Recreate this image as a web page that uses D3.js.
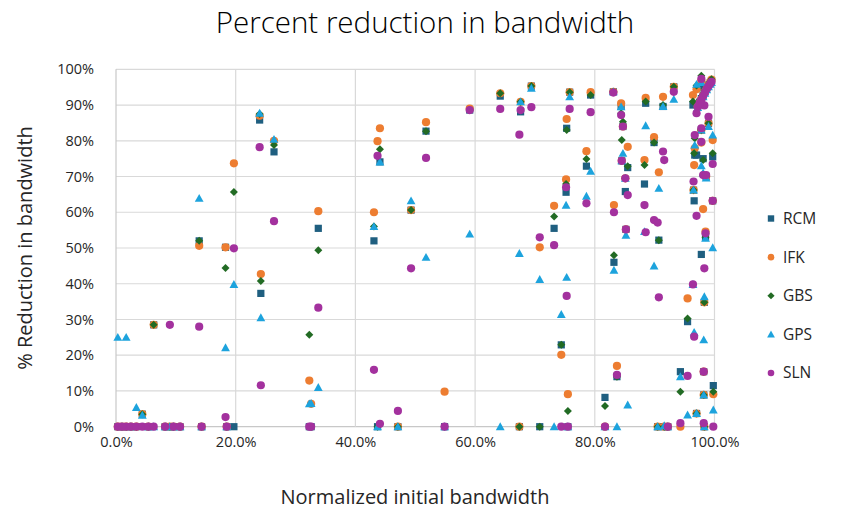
<!DOCTYPE html>
<html>
<head>
<meta charset="utf-8">
<script src="https://cdn.jsdelivr.net/npm/d3@7"></script>
<style>
  html, body { margin: 0; padding: 0; background: #fff; }
  svg { display: block; font-family: "Open Sans", "Noto Sans", sans-serif; }
</style>
</head>
<body>
<svg id="chart" width="845" height="518"></svg>
<script>
// Normalized initial bandwidth (%) of each test matrix
const initialBandwidth = [
  0.3, 1.7, 1.0, 2.5, 3.4, 4.4, 5.4, 6.3, 9.6, 8.2, 9.0, 10.7,
  13.9, 14.3, 18.3, 18.5, 19.7, 24.0, 24.2, 26.4,
  32.3, 32.6, 33.8, 43.1, 43.7, 44.1, 47.1, 49.3, 51.8, 54.9, 59.1, 64.2,
  67.4, 67.6, 69.4, 70.8, 73.2, 74.4, 75.8, 75.3, 75.2, 75.5, 78.6, 79.3,
  81.7, 83.1, 83.2, 83.7, 84.4, 84.7, 84.5, 85.5, 85.1, 85.2,
  88.5, 88.3, 89.9, 90.7, 91.4, 90.5, 91.6, 92.2, 93.2, 94.3, 95.5,
  96.4, 96.7, 96.6, 96.5, 97.0, 97.0, 97.8, 97.8, 98.3, 98.1, 98.2, 98.2,
  98.5, 98.3, 99.0, 99.7, 99.7, 99.8,
  97.2, 97.5, 97.8, 98.1, 98.4, 98.7, 99.0, 99.3, 99.5, 97.8, 98.6
];

// Percent reduction in bandwidth for each ordering method
const rcm = [
  0, 0, 0, 0, 0, 3.5, 0, 28.5, 0, 0, 0, 0,
  52, 0, 50.2, 0, 0, 85.8, 37.3, 76.9,
  0, 0, 55.5, 52, 0, 74.1, 0, 60.6, 82.7, 0, 88.6, 92.5,
  0, 88.1, 95.3, 0, 55.5, 22.9, 93.6, 83.5, 65.6, 0, 72.9, 92.8,
  8.2, 93.7, 46, 14, 89.6, 84, 74.4, 72.5, 65.8, 55.2,
  90.5, 67.9, 79.5, 52.2, 89.6, 0, 0, 0, 95.1, 15.4, 29.4,
  90, 76, 63.2, 66.2, 76, 3.7, 95, 48.2, 34.8, 75, 15.4, 8.9,
  53, 0, 84.9, 75.5, 63.2, 11.5,
  89.8, 90.8, 91.8, 92.8, 93.8, 94.8, 95.6, 96.3, 96.8, 83, 70
];
const ifk = [
  0, 0, 0, 0, 0, 3.5, 0, 28.5, 0, 0, 0, 0,
  50.6, 0, 50.2, 0, 73.7, 87, 42.7, 80,
  12.9, 6.4, 60.3, 60, 79.9, 83.5, 0, 60.6, 85.2, 9.8, 89, 93.3,
  0, 90.9, 95.3, 50.2, 61.8, 20.1, 93.6, 86.1, 69.2, 9.1, 77.1, 93.6,
  0, 93.7, 62, 17, 90.5, 84, 74.4, 78.3, 69.5, 55.2,
  92, 74.6, 81, 71.2, 92.3, 0, 0, 0, 95.1, 0, 35.9,
  92.8, 77.9, 73.2, 66.2, 94.4, 3.7, 96.8, 79.5, 34.8, 60.9, 15.4, 8.9,
  54.6, 0, 84.9, 80.2, 63.2, 9.1,
  89.6, 90.6, 91.6, 92.6, 93.6, 94.6, 95.5, 96.4, 97.1, 83, 70
];
const gbs = [
  0, 0, 0, 0, 0, 3.5, 0, 28.5, 0, 0, 0, 0,
  52, 0, 44.4, 0, 65.7, 87.5, 40.8, 78.8,
  25.7, 0, 49.4, 56, 0, 77.6, 0, 60.6, 82.7, 0, 88.6, 93.3,
  0, 90.9, 95.3, 0, 58.8, 22.9, 93.6, 83, 67.9, 4.4, 74.9, 92.8,
  5.8, 93.7, 48, 14, 87.7, 85.3, 80.2, 72.9, 69.5, 55.2,
  91, 73.2, 79.5, 52.2, 90, 0, 0, 0, 95.1, 9.8, 30.3,
  91, 80.7, 76.5, 66.2, 95.5, 3.7, 98.2, 83, 34.8, 74.6, 15.4, 8.9,
  53, 0, 84.9, 76.5, 63.2, 9.8,
  89.9, 90.9, 91.9, 92.9, 93.9, 94.9, 95.7, 96.6, 97.2, 83, 70
];
const gps = [
  25, 25, 0, 0, 5.4, 3.2, 0, 0, 0, 0, 0, 0,
  63.9, 0, 22.1, 0, 39.8, 87.7, 30.5, 80.4,
  6.4, 6.5, 11, 56, 0, 74.1, 0, 63.2, 47.4, 0, 53.9, 0,
  48.5, 90.9, 94.7, 41.2, 0, 31.4, 92.3, 41.8, 62, 0, 64.5, 71.5,
  0, 93.7, 43.8, 0, 89.5, 76.5, 74.4, 6.1, 69.5, 53.6,
  84.2, 54.6, 45, 66.7, 89.6, 0, 0.3, 0, 91.6, 14, 3.3,
  39.8, 78.8, 26.4, 66.2, 95.8, 3.7, 96.3, 73, 36.4, 71, 24.3, 8.9,
  52.7, 0, 84, 81.6, 50.1, 4.7,
  89.3, 90.3, 91.3, 92.3, 93.3, 94.3, 95.1, 95.8, 96.3, 83, 69.6
];
const sln = [
  0, 0, 0, 0, 0, 0, 0, 0, 0, 0, 28.5, 0,
  28, 0, 2.7, 0, 49.9, 78.2, 11.6, 57.5,
  0, 0, 33.3, 15.9, 75.8, 0.8, 4.4, 44.3, 75.2, 0, 88.6, 88.9,
  81.7, 88.6, 89.4, 53, 50.8, 0, 88.9, 36.6, 67, 0, 62.5, 88,
  0, 93.5, 60, 14.5, 87.2, 84, 74.4, 64.8, 69.5, 55.2,
  54.4, 62, 57.8, 36.2, 77, 57.1, 74.6, 0, 93.7, 1, 14.2,
  39.8, 81.6, 25.2, 68.6, 87.7, 59, 97.3, 79.7, 44.3, 70.4, 15.4, 1,
  54.1, 89.9, 86.7, 73.5, 63.2, 0,
  89.5, 90.5, 91.5, 92.5, 93.5, 94.5, 95.3, 96, 96.5, 83.5, 70.4
];

const seriesNames = ["RCM", "IFK", "GBS", "GPS", "SLN"];
const seriesValues = [rcm, ifk, gbs, gps, sln];
const seriesColors = ["#1F5F80", "#ED7D31", "#226B24", "#1DA3DD", "#A3319E"];

const xTicks = [0, 20, 40, 60, 80, 100];
const yTicks = [0, 10, 20, 30, 40, 50, 60, 70, 80, 90, 100];

// Marker shapes, sized in pixels (half-width r)
const shapes = {
  square: { draw(ctx, s) { const r = s; ctx.rect(-r, -r, 2 * r, 2 * r); } },
  circle: { draw(ctx, s) { ctx.moveTo(s, 0); ctx.arc(0, 0, s, 0, 2 * Math.PI); } },
  diamond: { draw(ctx, s) { ctx.moveTo(0, -s); ctx.lineTo(s, 0); ctx.lineTo(0, s); ctx.lineTo(-s, 0); ctx.closePath(); } },
  triangle: { draw(ctx, s) { ctx.moveTo(0, -s); ctx.lineTo(s, s * 0.8); ctx.lineTo(-s, s * 0.8); ctx.closePath(); } }
};
const seriesShapes = [shapes.square, shapes.circle, shapes.diamond, shapes.triangle, shapes.circle];
const seriesSizes = [3.6, 4.1, 4.0, 4.4, 4.1];
const legendSizes = [3.2, 3.3, 3.6, 3.9, 3.3];

const svg = d3.select("#chart");
const x = d3.scaleLinear().domain([0, 100]).range([116, 714.5]);
const y = d3.scaleLinear().domain([0, 100]).range([426.7, 69.3]);

// Gridlines
const grid = svg.append("g");
grid.selectAll("line.h").data(yTicks).join("line")
  .attr("x1", x(0)).attr("x2", x(100))
  .attr("y1", d => y(d)).attr("y2", d => y(d))
  .attr("stroke", d => d === 0 ? "#c8c8c8" : "#d9d9d9").attr("stroke-width", 1.2);
grid.selectAll("line.v").data(xTicks).join("line")
  .attr("x1", d => x(d)).attr("x2", d => x(d))
  .attr("y1", y(0)).attr("y2", y(100))
  .attr("stroke", d => d === 0 ? "#c8c8c8" : "#d9d9d9").attr("stroke-width", 1.2);

// Axes (labels only)
const xAxis = svg.append("g").attr("transform", `translate(0,${y(0) + 4})`)
  .call(d3.axisBottom(x).tickValues(xTicks).tickSize(0).tickFormat(d => d.toFixed(1) + "%"));
const yAxis = svg.append("g").attr("transform", `translate(${x(0) - 19},0)`)
  .call(d3.axisLeft(y).tickValues(yTicks).tickSize(0).tickFormat(d => d + "%"));
[xAxis, yAxis].forEach(a => {
  a.select(".domain").remove();
  a.selectAll("text").attr("font-family", '"Open Sans", sans-serif').attr("font-size", 14.5).attr("fill", "#262626");
});
xAxis.selectAll("text").attr("dy", "0.95em");

// Points, drawn series by series so SLN sits on top
seriesValues.forEach((vals, si) => {
  const sym = d3.symbol().type(seriesShapes[si]).size(seriesSizes[si]);
  svg.append("g").selectAll("path")
    .data(initialBandwidth.map((bx, i) => [bx, vals[i]]))
    .join("path")
    .attr("transform", d => `translate(${x(d[0])},${y(d[1])})`)
    .attr("d", sym())
    .attr("fill", seriesColors[si]);
});

// Title
svg.append("text").attr("x", 425).attr("y", 33).attr("text-anchor", "middle")
  .attr("font-size", 29.5).attr("font-weight", 300).attr("fill", "#000")
  .text("Percent reduction in bandwidth");

// Axis titles
svg.append("text").attr("x", 415).attr("y", 504).attr("text-anchor", "middle")
  .attr("font-size", 20).attr("fill", "#262626")
  .text("Normalized initial bandwidth");
svg.append("text").attr("transform", "translate(32,248) rotate(-90)").attr("text-anchor", "middle")
  .attr("font-size", 20).attr("fill", "#262626")
  .text("% Reduction in bandwidth");

// Legend
const legendY = d3.scalePoint().domain(seriesNames).range([218.5, 373]);
const legend = svg.append("g");
seriesNames.forEach((name, si) => {
  const g = legend.append("g").attr("transform", `translate(771,${legendY(name)})`);
  g.append("path").attr("d", d3.symbol().type(seriesShapes[si]).size(legendSizes[si])()).attr("fill", seriesColors[si]);
  g.append("text").attr("x", 12).attr("dy", "0.35em").attr("font-size", 15.5).attr("fill", "#262626").text(name);
});
</script>
</body>
</html>
